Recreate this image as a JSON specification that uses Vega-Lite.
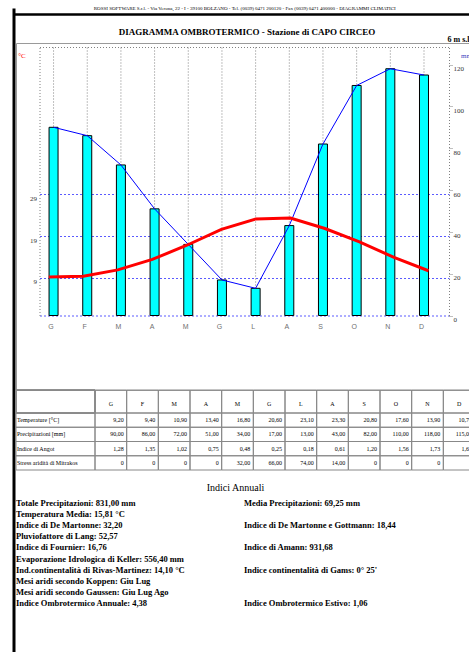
{
  "$schema": "https://vega.github.io/schema/vega-lite/v6.json",
  "width": 453,
  "height": 347,
  "autosize": {"type": "none"},
  "padding": {"left": 16, "top": 43, "right": 0, "bottom": 262},
  "background": "#ffffff",
  "config": {
    "view": {"stroke": "#9a9a9a", "strokeWidth": 1},
    "font": "Liberation Serif",
    "text": {"font": "Liberation Serif"},
    "axis": {"labelFont": "Liberation Serif", "titleFont": "Liberation Serif"},
    "locale": {"number": {"decimal": ",", "thousands": ".", "grouping": [3], "currency": ["", " €"]}}
  },
  "datasets": {
    "intestazione": [
      {"h": "ROSSI SOFTWARE S.r.l. - Via Verona, 22 - I - 39100 BOLZANO - Tel. (0039) 0471 200120 - Fax (0039) 0471 400000 - DIAGRAMMI CLIMATICI"}
    ],
    "mesi": [
      {"n": 1, "m": "G", "t": 9.2, "p": 90, "ang": 1.28, "str": 0},
      {"n": 2, "m": "F", "t": 9.4, "p": 86, "ang": 1.35, "str": 0},
      {"n": 3, "m": "M", "t": 10.9, "p": 72, "ang": 1.02, "str": 0},
      {"n": 4, "m": "A", "t": 13.4, "p": 51, "ang": 0.75, "str": 0},
      {"n": 5, "m": "M", "t": 16.8, "p": 34, "ang": 0.48, "str": 32},
      {"n": 6, "m": "G", "t": 20.6, "p": 17, "ang": 0.25, "str": 66},
      {"n": 7, "m": "L", "t": 23.1, "p": 13, "ang": 0.18, "str": 74},
      {"n": 8, "m": "A", "t": 23.3, "p": 43, "ang": 0.61, "str": 14},
      {"n": 9, "m": "S", "t": 20.8, "p": 82, "ang": 1.2, "str": 0},
      {"n": 10, "m": "O", "t": 17.6, "p": 110, "ang": 1.56, "str": 0},
      {"n": 11, "m": "N", "t": 13.9, "p": 118, "ang": 1.73, "str": 0},
      {"n": 12, "m": "D", "t": 10.7, "p": 115, "ang": 1.63, "str": 0}
    ],
    "righe": [
      {"c": "lab", "k": "t", "label": "Temperature [°C]"},
      {"c": "lab", "k": "p", "label": "Precipitazioni [mm]"},
      {"c": "lab", "k": "ang", "label": "Indice di Angot"},
      {"c": "lab", "k": "str", "label": "Stress aridità di Mitrakos"}
    ],
    "indici": [
      {"riga": 1, "col": "L", "testo": "Totale Precipitazioni: 831,00 mm"},
      {"riga": 1, "col": "R", "testo": "Media Precipitazioni: 69,25 mm"},
      {"riga": 2, "col": "L", "testo": "Temperatura Media: 15,81 °C"},
      {"riga": 3, "col": "L", "testo": "Indice di De Martonne: 32,20"},
      {"riga": 3, "col": "R", "testo": "Indice di De Martonne e Gottmann: 18,44"},
      {"riga": 4, "col": "L", "testo": "Pluviofattore di Lang: 52,57"},
      {"riga": 5, "col": "L", "testo": "Indice di Fournier: 16,76"},
      {"riga": 5, "col": "R", "testo": "Indice di Amann: 931,68"},
      {"riga": 6, "col": "L", "testo": "Evaporazione Idrologica di Keller: 556,40 mm"},
      {"riga": 7, "col": "L", "testo": "Ind.continentalità di Rivas-Martinez: 14,10 °C"},
      {"riga": 7, "col": "R", "testo": "Indice continentalità di Gams: 0° 25'"},
      {"riga": 8, "col": "L", "testo": "Mesi aridi secondo Koppen: Giu Lug"},
      {"riga": 9, "col": "L", "testo": "Mesi aridi secondo Gaussen: Giu Lug Ago"},
      {"riga": 10, "col": "L", "testo": "Indice Ombrotermico Annuale: 4,38"},
      {"riga": 10, "col": "R", "testo": "Indice Ombrotermico Estivo: 1,06"}
    ]
  },
  "layer": [
    {
      "data": {"name": "intestazione"},
      "mark": {"type": "text", "fontSize": 5, "color": "#000000", "baseline": "middle", "align": "center"},
      "encoding": {
        "x": {"field": "h", "type": "nominal",
          "scale": {"type": "point", "range": [-2.5, 460], "padding": 0.5},
          "axis": {"orient": "top", "offset": 29, "domainColor": "#000000", "domainWidth": 2.5, "labels": false, "ticks": false, "grid": false,
            "title": "DIAGRAMMA OMBROTERMICO - Stazione di CAPO CIRCEO", "titleX": 230.5, "titleY": 17.5, "titleAlign": "center", "titleBaseline": "middle", "titleAngle": 0, "titleFontSize": 9, "titleFontWeight": "bold", "titleColor": "#000000"}},
        "y": {"field": "h", "type": "nominal",
          "scale": {"type": "point", "range": [-35, 609], "padding": 0.5, "align": 0},
          "axis": {"orient": "left", "offset": 2.5, "domainColor": "#000000", "domainWidth": 3, "labels": false, "ticks": false, "grid": false, "title": null}},
        "text": {"field": "h"}
      }
    },
    {
      "data": {"name": "mesi"},
      "encoding": {
        "x": {"field": "n", "type": "quantitative",
          "scale": {"domain": [0.731, 12.594], "range": [23.5, 433], "nice": false, "zero": false},
          "axis": {"orient": "bottom", "offset": -74.5, "values": [1, 2, 3, 4, 5, 6, 7, 8, 9, 10, 11, 12],
            "labelExpr": "['G','F','M','A','M','G','L','A','S','O','N','D'][datum.value - 1]",
            "labelFont": "Liberation Sans", "labelFontSize": 7, "labelColor": "#707070", "labelPadding": 7, "labelOffset": -3,
            "ticks": false, "grid": false,
            "domainColor": "#5a5aff", "domainDash": [2, 2], "domainWidth": 1, "title": null}},
        "y": {"field": "p", "type": "quantitative",
          "scale": {"domain": [0, 128.4], "range": [272.5, 4], "nice": false, "zero": false},
          "axis": {"orient": "right", "offset": -20, "values": [0, 20, 40, 60, 80, 100, 120],
            "labelFontSize": 7, "labelColor": "#333333", "labelPadding": 0, "labelBaseline": "top", "labelAlign": "left",
            "tickSize": 4, "tickColor": "#808080", "tickDash": [1, 1], "tickWidth": 1,
            "domainColor": "#808080", "domainDash": [1, 2], "domainWidth": 1, "grid": false,
            "title": "mm", "titleAngle": 0, "titleX": 17, "titleY": 12, "titleAlign": "center", "titleBaseline": "middle", "titleFontSize": 7, "titleFontWeight": "normal", "titleColor": "#4040c0"}}
      },
      "layer": [
        {"mark": {"type": "rule", "color": "#808080", "strokeDash": [1, 2], "strokeWidth": 1},
          "encoding": {"y": {"datum": 0}, "y2": {"datum": 128.4}}},
        {"mark": {"type": "bar", "width": 9, "fill": "#00ffff", "stroke": "#000000", "strokeWidth": 1}},
        {"mark": {"type": "line", "color": "#0000ff", "strokeWidth": 1}}
      ]
    },
    {
      "data": {"name": "mesi"},
      "mark": {"type": "line", "color": "#ff0000", "strokeWidth": 3},
      "encoding": {
        "x": {"field": "n", "type": "quantitative",
          "scale": {"domain": [0.731, 12.594], "range": [23.5, 433], "nice": false, "zero": false},
          "axis": {"orient": "top", "offset": -4, "labels": false, "ticks": false, "grid": false,
            "domainColor": "#808080", "domainDash": [1, 2], "domainWidth": 1,
            "title": "6 m s.l.m.", "titleX": 431, "titleY": -7.5, "titleAlign": "left", "titleBaseline": "middle", "titleAngle": 0, "titleFontSize": 8, "titleFontWeight": "bold", "titleColor": "#000000"}},
        "y": {"field": "t", "type": "quantitative",
          "scale": {"domain": [0, 64.2], "range": [272.5, 4], "nice": false, "zero": false},
          "axis": {"orient": "left", "offset": -23.5, "values": [9, 19, 29],
            "labelFontSize": 7, "labelColor": "#333333", "labelBaseline": "top", "labelPadding": 3,
            "ticks": false, "grid": true, "gridColor": "#5a5aff", "gridDash": [2, 2], "gridWidth": 1,
            "domainColor": "#808080", "domainDash": [1, 2], "domainWidth": 1,
            "title": "°C", "titleAngle": 0, "titleX": -18, "titleY": 12, "titleAlign": "center", "titleBaseline": "middle", "titleFontSize": 7, "titleFontWeight": "normal", "titleColor": "#ff0000"}}
      }
    },
    {
      "data": {"name": "mesi"},
      "encoding": {
        "x": {"field": "n", "type": "ordinal",
          "scale": {"type": "band", "range": [79, 459], "paddingInner": 0, "paddingOuter": 0}, "axis": null},
        "y": {"datum": "h", "type": "nominal",
          "scale": {"type": "band", "domain": ["h"], "range": [347, 370], "paddingInner": 0, "paddingOuter": 0}, "axis": null}
      },
      "layer": [
        {"mark": {"type": "rect", "fill": "#ffffff", "fillOpacity": 0, "stroke": "#888888", "strokeWidth": 1}},
        {"mark": {"type": "text", "fontSize": 6, "color": "#000000", "baseline": "middle", "dy": 2}, "encoding": {"text": {"field": "m"}}}
      ]
    },
    {
      "data": {"name": "righe"},
      "encoding": {
        "x": {"field": "c", "type": "nominal",
          "scale": {"type": "band", "range": [0, 79], "paddingInner": 0, "paddingOuter": 0}, "axis": null},
        "y": {"datum": "h", "type": "nominal",
          "scale": {"type": "band", "domain": ["h"], "range": [347, 370], "paddingInner": 0, "paddingOuter": 0}, "axis": null}
      },
      "mark": {"type": "rect", "fill": "#ffffff", "fillOpacity": 0, "stroke": "#888888", "strokeWidth": 1}
    },
    {
      "data": {"name": "righe"},
      "encoding": {
        "x": {"field": "c", "type": "nominal",
          "scale": {"type": "band", "range": [0, 79], "paddingInner": 0, "paddingOuter": 0}, "axis": null},
        "y": {"field": "k", "type": "nominal",
          "scale": {"type": "band", "domain": ["t", "p", "ang", "str"], "range": [370, 427], "paddingInner": 0, "paddingOuter": 0}, "axis": null}
      },
      "layer": [
        {"mark": {"type": "rect", "fill": "#ffffff", "fillOpacity": 0, "stroke": "#888888", "strokeWidth": 1}},
        {"mark": {"type": "text", "fontSize": 6, "color": "#000000", "align": "left", "baseline": "middle", "dx": 1},
          "encoding": {
            "x": {"field": "c", "type": "nominal", "bandPosition": 0,
              "scale": {"type": "band", "range": [0, 79], "paddingInner": 0, "paddingOuter": 0}, "axis": null},
            "text": {"field": "label"}}}
      ]
    },
    {
      "data": {"name": "mesi"},
      "transform": [{"fold": ["t", "p", "ang", "str"], "as": ["k", "v"]}],
      "encoding": {
        "x": {"field": "n", "type": "ordinal",
          "scale": {"type": "band", "range": [79, 459], "paddingInner": 0, "paddingOuter": 0}, "axis": null},
        "y": {"field": "k", "type": "nominal",
          "scale": {"type": "band", "domain": ["t", "p", "ang", "str"], "range": [370, 427], "paddingInner": 0, "paddingOuter": 0}, "axis": null}
      },
      "layer": [
        {"mark": {"type": "rect", "fill": "#ffffff", "fillOpacity": 0, "stroke": "#888888", "strokeWidth": 1}},
        {"mark": {"type": "text", "fontSize": 6, "color": "#000000", "align": "right", "baseline": "middle", "dx": -3},
          "encoding": {
            "x": {"field": "n", "type": "ordinal", "bandPosition": 1,
              "scale": {"type": "band", "range": [79, 459], "paddingInner": 0, "paddingOuter": 0}, "axis": null},
            "text": {"condition": {"test": "datum.v == 0", "value": "0"}, "field": "v", "type": "quantitative", "format": ".2f"}}}
      ]
    },
    {
      "data": {"name": "indici"},
      "mark": {"type": "text", "align": "left", "baseline": "middle", "fontSize": 8.5, "fontWeight": "bold", "color": "#000000"},
      "encoding": {
        "x": {"field": "col", "type": "nominal",
          "scale": {"type": "point", "domain": ["L", "R"], "range": [0, 228], "padding": 0},
          "axis": {"orient": "top", "offset": 0, "domain": false, "labels": false, "ticks": false, "grid": false,
            "title": "Indici Annuali", "titleX": 219, "titleY": 444, "titleAlign": "center", "titleBaseline": "middle", "titleAngle": 0, "titleFontSize": 10, "titleFontWeight": "normal", "titleColor": "#000000"}},
        "y": {"field": "riga", "type": "ordinal",
          "scale": {"type": "point", "range": [460, 560], "padding": 0}, "axis": null},
        "text": {"field": "testo"}
      }
    }
  ],
  "resolve": {
    "scale": {"x": "independent", "y": "independent"},
    "axis": {"x": "independent", "y": "independent"}
  }
}
